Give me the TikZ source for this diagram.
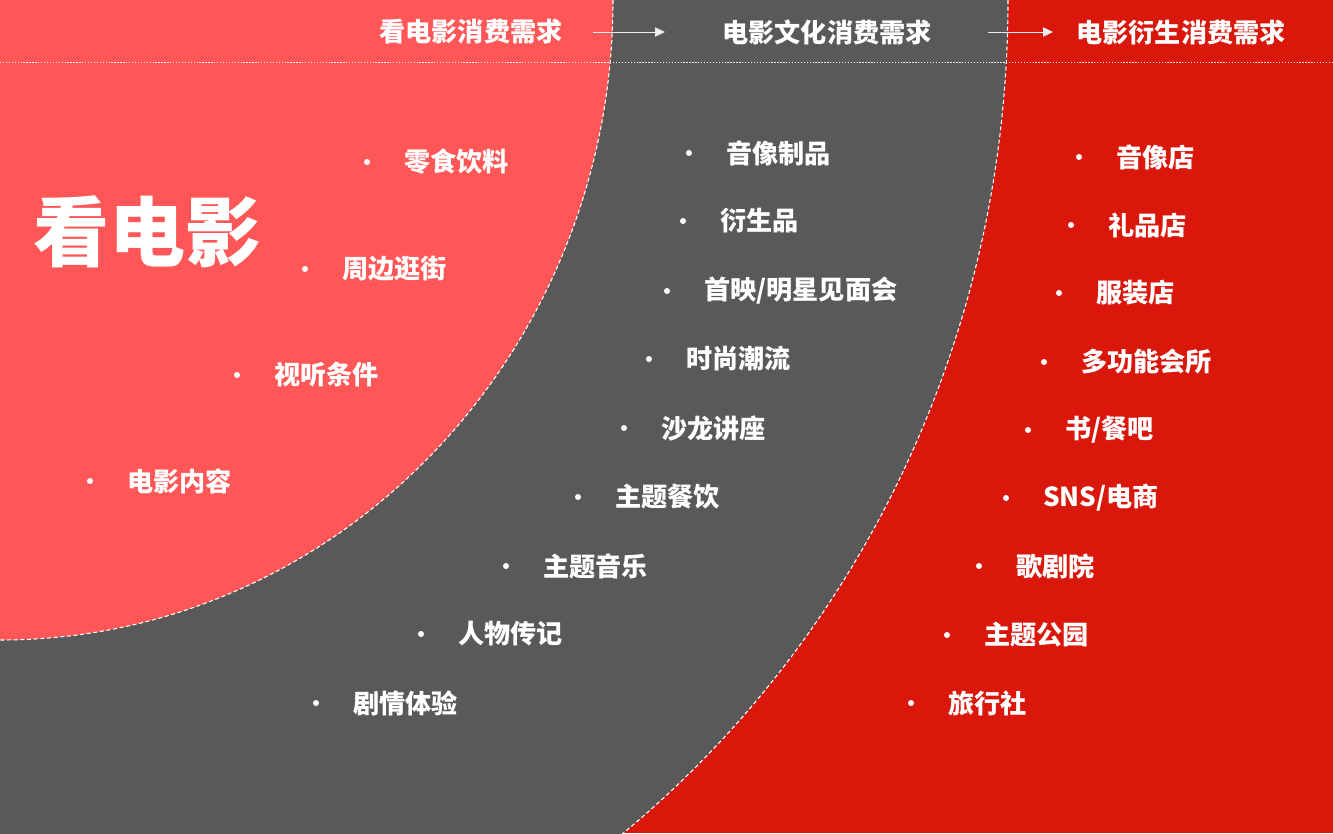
\documentclass[tikz,border=0pt]{standalone}
\usepackage{fontspec}
\setmainfont{Noto Sans CJK SC}
\usetikzlibrary{arrows.meta}
\definecolor{filmred}{HTML}{FF5757}
\definecolor{culturegray}{HTML}{595959}
\definecolor{derivered}{HTML}{D9170B}

\begin{document}
\begin{tikzpicture}[x=0.75pt,y=-0.75pt,
    item/.style={anchor=west,inner sep=0pt,text=white,font=\fontsize{19.6}{24}\selectfont\bfseries},
    head/.style={inner sep=0pt,text=white,font=\fontsize{19.6}{24}\selectfont\bfseries},
    dot/.style={circle,fill=white,inner sep=0pt,minimum size=4.5pt},
    border/.style={white,line width=0.8pt,dash pattern=on 3pt off 2pt},
    arr/.style={-{Triangle[length=7.5pt,width=7pt]},white!85!gray,line width=0.75pt}]
    \useasboundingbox (0,0) rectangle (1333,833);
    \clip (0,0) rectangle (1333,833);

    \fill[derivered] (0,0) rectangle (1333,833);
    \fill[culturegray] (0,0) -- (1008,0) arc[start angle=0, end angle=90, x radius=1008, y radius=1060] -- cycle;
    \fill[filmred] (0,0) -- (613,0) arc[start angle=0, end angle=90, x radius=613, y radius=640] -- cycle;
    \draw[border] (1008,0) arc[start angle=0, end angle=90, x radius=1008, y radius=1060];
    \draw[border] (613,0) arc[start angle=0, end angle=90, x radius=613, y radius=640];

    \draw[white!90!gray, line width=0.6pt, dash pattern=on 1pt off 1.2pt] (0,62) -- (1333,62);

    \node[head] (need1) at (471,32) {看电影消费需求};
    \node[head] (need2) at (827,32) {电影文化消费需求};
    \node[head] (need3) at (1181,32) {电影衍生消费需求};
    \coordinate (a1) at (593,32);
    \coordinate (b1) at (665,32);
    \coordinate (a2) at (988,32);
    \coordinate (b2) at (1053,32);
    \draw[arr] (a1) -- (b1);
    \draw[arr] (a2) -- (b2);

    \node[anchor=west, inner sep=0pt, text=white, font=\fontsize{57}{60}\selectfont\bfseries] (title) at (33,232) {看电影};

    \foreach \x/\y/\t [count=\i] in {367/162/零食饮料, 305/269/周边逛街, 237/375/视听条件, 90/481/电影内容}
    {
        \node[dot] (fd\i) at (\x,\y) {};
        \node[item] (ft\i) at (\x+37,\y) {\t};
    }

    \foreach \x/\y/\t [count=\i] in {689/153/音像制品, 683/221/衍生品, 667/291/{首映/明星见面会}, 649/359/时尚潮流,
        624/428/沙龙讲座, 578/497/主题餐饮, 506/566/主题音乐, 421/634/人物传记, 316/703/剧情体验}
    {
        \node[dot] (cd\i) at (\x,\y) {};
        \node[item] (ct\i) at (\x+37,\y) {\t};
    }

    \foreach \x/\y/\t [count=\i] in {1079/157/音像店, 1071/225/礼品店, 1059/293/服装店, 1044/362/多功能会所,
        1028/430/{书/餐吧}, 1006/498/{SNS/电商}, 979/566/歌剧院, 947/635/主题公园, 911/703/旅行社}
    {
        \node[dot] (dd\i) at (\x,\y) {};
        \node[item] (dt\i) at (\x+37,\y) {\t};
    }
\end{tikzpicture}
\end{document}
